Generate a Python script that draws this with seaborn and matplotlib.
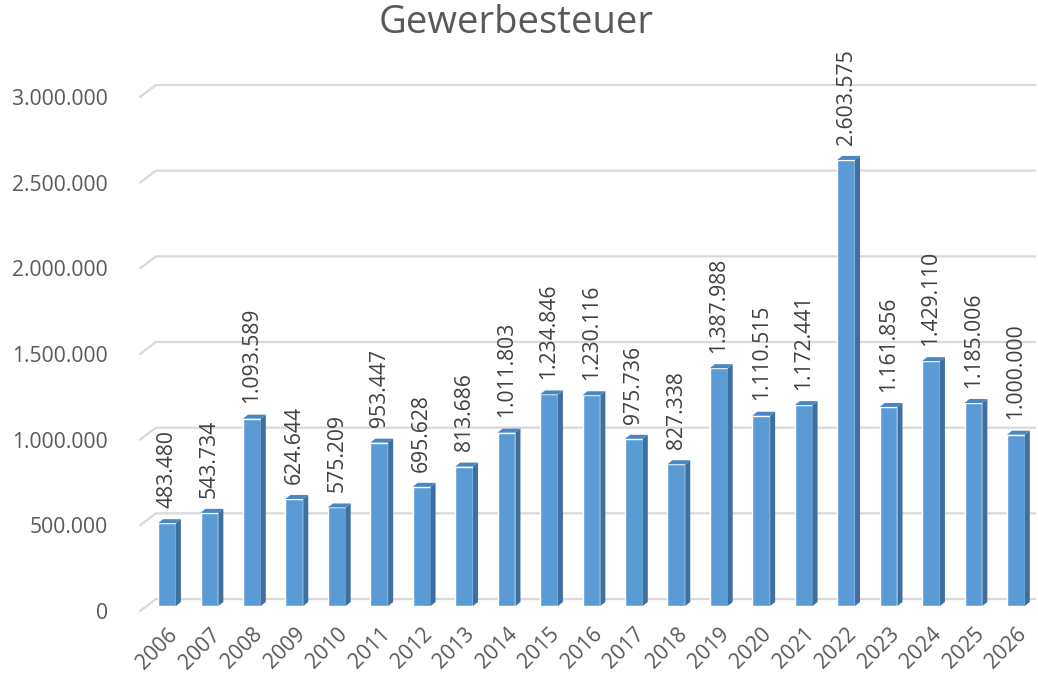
import numpy as np
import pandas as pd
import matplotlib
matplotlib.use("Agg")
import matplotlib.pyplot as plt
from matplotlib.patches import Polygon
import matplotlib.transforms as mtransforms
import seaborn as sns

# Data
years = [str(y) for y in range(2006, 2027)]
values = [483480, 543734, 1093589, 624644, 575209, 953447, 695628, 813686,
          1011803, 1234846, 1230116, 975736, 827338, 1387988, 1110515,
          1172441, 2603575, 1161856, 1429110, 1185006, 1000000]
y_ticks = [0, 500000, 1000000, 1500000, 2000000, 2500000, 3000000]

df = pd.DataFrame({"Jahr": years, "Wert": values})

def de_fmt(v):
    return f"{v:,}".replace(",", ".")

sns.set_theme(style="white")
plt.rcParams["font.family"] = ["Open Sans", "DejaVu Sans"]

fig = plt.figure(figsize=(10.38, 6.79), dpi=100)
# axes placed in pixels: x 140..1035, y 92..606
ax = fig.add_axes([140 / 1038, 1 - 606 / 679, 895 / 1038, 514 / 679])

front = "#5B9BD5"
side = "#3F6F9E"
top = "#4A86C0"
fs = 15.2

sns.barplot(data=df, x="Jahr", y="Wert", color=front, width=0.42,
            saturation=1, ax=ax, zorder=3)

ax.set_xlim(-0.636, 20.45)
ax.set_ylim(0, 3000000)

# pixel -> data conversions
px_x = 1 / 42.45
px_y = 3000000 / 514

# back-wall gridlines with small floor diagonal at the left
x0 = ax.get_xlim()[0]
x1 = ax.get_xlim()[1]
for t in y_ticks:
    ax.plot([x0, x0 + 16 * px_x, x1], [t - 5 * px_y, t + 7 * px_y, t + 7 * px_y],
            color="#D9D9D9", lw=1.6, zorder=1, clip_on=False)

# 3D side and top faces of the bars
dx, dy = 5 * px_x, 4 * px_y
for p in ax.patches:
    xl = p.get_x()
    w = p.get_width()
    h = p.get_height()
    xr = xl + w
    ax.add_patch(Polygon([[xr, 0], [xr + dx, dy], [xr + dx, h + dy], [xr, h]],
                         closed=True, facecolor=side, edgecolor="none", zorder=3))
    ax.add_patch(Polygon([[xl, h], [xl + dx, h + dy], [xr + dx, h + dy], [xr, h]],
                         closed=True, facecolor=top, edgecolor="none", zorder=3))

# value labels
for i, v in enumerate(values):
    ax.annotate(de_fmt(v), xy=(i, v), xytext=(0, 11), textcoords="offset points",
                rotation=90, ha="center", va="bottom", fontsize=fs,
                color="#404040", annotation_clip=False)

ax.set_yticks(y_ticks)
ax.set_yticklabels([de_fmt(t) for t in y_ticks], fontsize=fs, color="#595959")
ax.tick_params(axis="y", length=0, pad=23)
shift_down = mtransforms.ScaledTranslation(0, -5 / 100, fig.dpi_scale_trans)
for lab in ax.get_yticklabels():
    lab.set_transform(lab.get_transform() + shift_down)

ax.set_xticks(range(len(years)))
ax.set_xticklabels(years, rotation=45, ha="right", va="top",
                   rotation_mode="anchor", fontsize=fs, color="#595959")
ax.tick_params(axis="x", length=0, pad=13)

ax.set_xlabel("")
ax.set_ylabel("")
ax.grid(False)
for s in ax.spines.values():
    s.set_visible(False)
ax.set_facecolor("none")

fig.text(516 / 1038, 1 - 23 / 679, "Gewerbesteuer", ha="center", va="center",
         fontsize=27.5, color="#595959")

fig.savefig("out.png", dpi=100, facecolor="white")
